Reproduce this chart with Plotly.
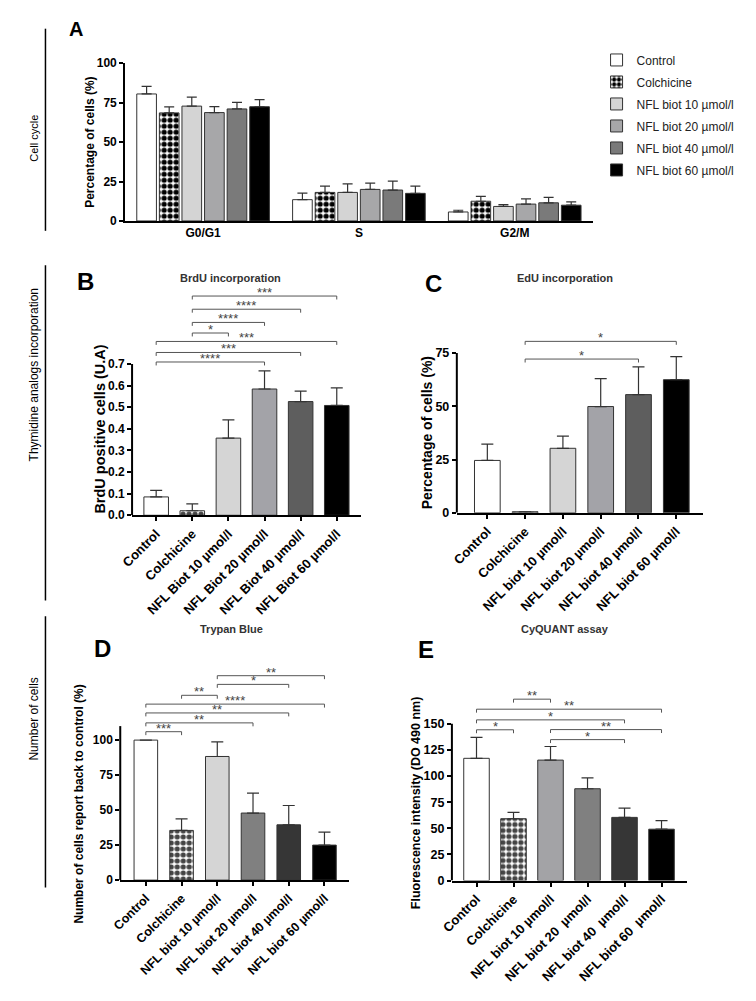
import plotly.graph_objects as go

W, H = 756, 1001
FONT = "Liberation Sans, Arial, Helvetica, sans-serif"
NARROW = "Liberation Sans Narrow, Arial Narrow, Liberation Sans, Arial, sans-serif"

# ======================= DATA =======================
# Panel A - cell cycle (grouped bars)
A_phases = ["G0/G1", "S", "G2/M"]
A_series = ["Control", "Colchicine", "NFL biot 10 µmol/l", "NFL biot 20 µmol/l",
            "NFL biot 40 µmol/l", "NFL biot 60 µmol/l"]
A_control = [80.5, 13.5, 5.7]
A_control_err = [4.8, 4.2, 1.1]
A_colchicine = [68.5, 18.1, 12.5]
A_colchicine_err = [3.8, 4.0, 3.1]
A_nfl10 = [72.8, 18.1, 9.2]
A_nfl10_err = [5.7, 5.4, 1.2]
A_nfl20 = [68.7, 20.0, 10.7]
A_nfl20_err = [3.8, 4.0, 3.3]
A_nfl40 = [71.0, 19.6, 11.5]
A_nfl40_err = [4.2, 5.6, 3.4]
A_nfl60 = [72.4, 17.5, 10.0]
A_nfl60_err = [4.5, 4.6, 2.1]
A_yticks = [0, 25, 50, 75, 100]

# Panel B - BrdU incorporation
B_labels = ["Control", "Colchicine", "NFL Biot 10 µmol/l", "NFL Biot 20 µmol/l",
            "NFL Biot 40 µmol/l", "NFL Biot 60 µmol/l"]
B_values = [0.085, 0.021, 0.357, 0.584, 0.526, 0.508]
B_err = [0.030, 0.032, 0.084, 0.084, 0.048, 0.081]
B_yticks = [0.0, 0.1, 0.2, 0.3, 0.4, 0.5, 0.6, 0.7]
# (from index, to index, bracket height, label)
B_brackets = [(1, 5, 1.014, "***"), (1, 4, 0.953, "****"), (1, 3, 0.892, "****"),
              (1, 2, 0.843, "*"), (0, 5, 0.804, "***"), (0, 4, 0.753, "***"),
              (0, 3, 0.709, "****")]

# Panel C - EdU incorporation
C_labels = ["Control", "Colchicine", "NFL biot 10 µmol/l", "NFL biot 20 µmol/l",
            "NFL biot 40 µmol/l", "NFL biot 60 µmol/l"]
C_values = [24.6, 0.5, 30.3, 49.9, 55.5, 62.5]
C_err = [7.7, None, 5.7, 13.1, 13.0, 10.8]
C_yticks = [0, 25, 50, 75]
C_brackets = [(1, 5, 80.5, "*"), (1, 4, 72.2, "*")]

# Panel D - Trypan Blue
D_labels = ["Control", "Colchicine", "NFL biot 10 µmol/l", "NFL biot 20 µmol/l",
            "NFL biot 40 µmol/l", "NFL biot 60 µmol/l"]
D_values = [100.0, 35.5, 88.3, 47.9, 39.5, 25.0]
D_err = [None, 8.3, 10.5, 14.2, 13.8, 9.3]
D_yticks = [0, 25, 50, 75, 100]
D_brackets = [(2, 5, 146.0, "**"), (2, 4, 139.8, "*"), (1, 2, 132.0, "**"),
              (0, 5, 125.7, "****"), (0, 4, 119.4, "**"), (0, 3, 112.3, "**"),
              (0, 1, 106.0, "***")]

# Panel E - CyQUANT assay
E_labels = ["Control", "Colchicine", "NFL biot 10 µmol/l", "NFL biot 20 \u00a0µmol/l",
            "NFL biot 40 \u00a0µmol/l", "NFL biot 60 \u00a0µmol/l"]
E_values = [117.0, 59.2, 115.3, 87.9, 60.5, 49.2]
E_err = [20.0, 6.0, 13.0, 10.4, 8.8, 8.2]
E_yticks = [0, 25, 50, 75, 100, 125, 150]
E_brackets = [(1, 2, 173.6, "**"), (0, 5, 164.0, "**"), (0, 4, 153.8, "*"),
              (0, 1, 144.3, "*"), (2, 5, 144.5, "**"), (2, 4, 134.9, "*")]

# ======================= STYLE / LAYOUT =======================
def xp(p):
    return p / W


def yp(p):
    return 1 - p / H


EDGE = "#333333"
PAT = ["", ".", "", "", "", ""]
PATTERN_STYLE = dict(fgcolor="black", bgcolor="white", size=6, solidity=0.6, fgopacity=1)

fig = go.Figure()

# ---- Panel A ----
A_colors = ["white", "white", "#d4d4d4", "#a7a7a9", "#7a7a7a", "black"]
A_data = [A_control, A_colchicine, A_nfl10, A_nfl20, A_nfl40, A_nfl60]
A_errs = [A_control_err, A_colchicine_err, A_nfl10_err, A_nfl20_err, A_nfl40_err, A_nfl60_err]
for k, name in enumerate(A_series):
    fig.add_trace(go.Bar(
        x=A_phases, y=A_data[k], name=name, legendgroup=name,
        marker=dict(color=A_colors[k], line=dict(color=EDGE, width=1),
                    pattern=dict(shape=PAT[k], **PATTERN_STYLE)),
        error_y=dict(type="data", array=A_errs[k], arrayminus=[0] * len(A_errs[k]),
                     symmetric=False, color=EDGE, thickness=1.2, width=5),
        xaxis="x", yaxis="y", showlegend=True))

# Panel geometry (pixels): axis-left, axis-right, first-bar-centre, pitch,
# zero baseline, reference tick px, reference tick value, top of plot area
panels = {
    "B": dict(ax="2", labels=B_labels, values=B_values, err=B_err, yticks=B_yticks,
              brackets=B_brackets, colors=["white", "white", "#d5d5d5", "#a3a3a8", "#5e5e5e", "black"],
              left=122, right=355, c0=146.5, pitch=36.7, base=515.5, ref=362, refv=0.7,
              top=280, axtop=0.7, fmt=".1f", ytf=12, xtf=13, width=0.68),
    "C": dict(ax="3", labels=C_labels, values=C_values, err=C_err, yticks=C_yticks,
              brackets=C_brackets, colors=["white", "white", "#d5d5d5", "#a3a3a8", "#5e5e5e", "black"],
              left=452, right=702, c0=483, pitch=38.4, base=513, ref=351, refv=75,
              top=300, axtop=75, fmt="d", ytf=12.5, xtf=13, width=0.68),
    "D": dict(ax="4", labels=D_labels, values=D_values, err=D_err, yticks=D_yticks,
              brackets=D_brackets, colors=["white", "white", "#d5d5d5", "#808080", "#363636", "black"],
              left=110, right=342, c0=136, pitch=36.3, base=885.5, ref=743.5, refv=100,
              top=650, axtop=110, fmt="d", ytf=12, xtf=12.5, width=0.66),
    "E": dict(ax="5", labels=E_labels, values=E_values, err=E_err, yticks=E_yticks,
              brackets=E_brackets, colors=["white", "white", "#a3a3a6", "#808080", "#363636", "black"],
              left=447, right=686, c0=472, pitch=37.6, base=886, ref=727, refv=150,
              top=680, axtop=150, fmt="d", ytf=12.5, xtf=13, width=0.69),
}

shapes = []
annotations = []
layout_axes = {}

# Panel A axes
layout_axes["xaxis"] = dict(
    domain=[xp(115), xp(590)], range=[-0.5, 2.5], type="category", anchor="y",
    showline=True, linecolor="black", linewidth=2, ticks="", showgrid=False,
    zeroline=False, tickfont=dict(family=FONT, size=12, color="black", weight="bold"))
layout_axes["yaxis"] = dict(
    domain=[yp(217), yp(57)], range=[0, 100], anchor="x", tickvals=A_yticks,
    showline=True, linecolor="black", linewidth=2, ticks="outside", ticklen=4,
    tickwidth=2, tickcolor="black", showgrid=False, zeroline=False,
    tickfont=dict(family=FONT, size=12, color="black", weight="bold"))

for key, p in panels.items():
    a = p["ax"]
    ppu = (p["base"] - p["ref"]) / p["refv"]
    ytop = (p["base"] - p["top"]) / ppu
    x0 = (p["left"] - p["c0"]) / p["pitch"]
    x1 = (p["right"] - p["c0"]) / p["pitch"]
    fig.add_trace(go.Bar(
        x=p["labels"], y=p["values"], width=p["width"], showlegend=False,
        marker=dict(color=p["colors"], line=dict(color=EDGE, width=1),
                    pattern=dict(shape=PAT, **PATTERN_STYLE)),
        error_y=dict(type="data", array=p["err"], arrayminus=[0] * 6, symmetric=False,
                     color=EDGE, thickness=1.2, width=6),
        xaxis="x" + a, yaxis="y" + a))
    layout_axes["xaxis" + a] = dict(
        domain=[xp(p["left"]), xp(p["right"])], range=[x0, x1], type="category",
        anchor="y" + a, showline=True, linecolor="black", linewidth=2,
        ticks="outside", ticklen=4, tickwidth=2, tickcolor="black", tickangle=-45,
        showgrid=False, zeroline=False,
        tickfont=dict(family=FONT, size=p["xtf"], color="black", weight="bold"))
    layout_axes["yaxis" + a] = dict(
        domain=[yp(p["base"]), yp(p["top"])], range=[0, ytop], anchor="x" + a,
        tickvals=p["yticks"], tickformat=p["fmt"], showline=False,
        ticks="outside", ticklen=4, tickwidth=2, tickcolor="black",
        showgrid=False, zeroline=False,
        tickfont=dict(family=FONT, size=p["ytf"], color="black", weight="bold"))
    # y axis line (stops at the top of the scale as in the original)
    shapes.append(dict(type="line", xref="x" + a + " domain", yref="y" + a,
                       x0=0, x1=0, y0=0, y1=p["axtop"],
                       line=dict(color="black", width=2)))
    # significance brackets
    tick = 3.5 / ppu
    for (i, j, yb, lab) in p["brackets"]:
        for seg in [(i, yb, j, yb), (i, yb, i, yb - tick), (j, yb, j, yb - tick)]:
            shapes.append(dict(type="line", xref="x" + a, yref="y" + a,
                               x0=seg[0], y0=seg[1], x1=seg[2], y1=seg[3],
                               line=dict(color="#555555", width=1)))
        annotations.append(dict(x=(i + j) / 2, y=yb, xref="x" + a, yref="y" + a,
                                text=lab, showarrow=False, yanchor="bottom",
                                yshift=-6, font=dict(family=FONT, size=13, color="#444444")))

# Section separator lines
for (y0, y1) in [(22, 227), (262, 602), (618, 893)]:
    shapes.append(dict(type="line", xref="paper", yref="paper", x0=xp(34), x1=xp(34),
                       y0=yp(y0), y1=yp(y1), line=dict(color="black", width=1.5)))


def ann(text, x, y, size, weight="normal", angle=0, color="black", family=FONT):
    annotations.append(dict(text=text, x=xp(x), y=yp(y), xref="paper", yref="paper",
                            showarrow=False, xanchor="center", yanchor="middle",
                            textangle=angle,
                            font=dict(family=family, size=size, color=color, weight=weight)))


# Section labels
ann("Cell cycle", 22, 133, 11, angle=-90)
ann("Thymidine analogs incorporation", 22, 373, 12, angle=-90, family=NARROW)
ann("Number of cells", 22, 722, 12, angle=-90, family=NARROW)

# Panel letters
ann("A", 65, 22, 20, "bold")
ann("B", 75, 278, 24, "bold")
ann("C", 428, 280, 24, "bold")
ann("D", 92, 651, 24, "bold")
ann("E", 421, 652, 24, "bold")

# Panel titles
ann("BrdU incorporation", 222, 275, 11, "bold", color="#333333")
ann("EdU incorporation", 562, 275, 11, "bold", color="#333333")
ann("Trypan Blue", 223, 631, 11, "bold", color="#333333")
ann("CyQUANT assay", 562, 631, 11, "bold", color="#333333")

# Y axis titles
ann("Percentage of cells (%)", 79, 137, 12, "bold", angle=-90)
ann("BrdU positive cells (U.A)", 89, 428, 14.5, "bold", angle=-90)
ann("Percentage of cells (%)", 422, 432, 14, "bold", angle=-90)
ann("Number of cells report back to control (%)", 68, 808, 12, "bold", angle=-90)
ann("Fluorescence intensity (DO 490 nm)", 410, 807, 12.5, "bold", angle=-90)

fig.update_layout(
    width=W, height=H, autosize=False,
    margin=dict(l=0, r=0, t=0, b=0, pad=0),
    plot_bgcolor="white", paper_bgcolor="white",
    font=dict(family=FONT, color="black"),
    barmode="group", bargap=0.13, bargroupgap=0.13,
    legend=dict(x=xp(594), y=yp(39), xanchor="left", yanchor="top",
                font=dict(family=FONT, size=12, color="#222222"),
                bgcolor="rgba(0,0,0,0)", traceorder="grouped", tracegroupgap=3),
    shapes=shapes, annotations=annotations,
    **layout_axes)

fig.write_html("out.html", config={"displayModeBar": False},
               post_script="document.body.style.margin='0';document.body.style.overflow='hidden';")
